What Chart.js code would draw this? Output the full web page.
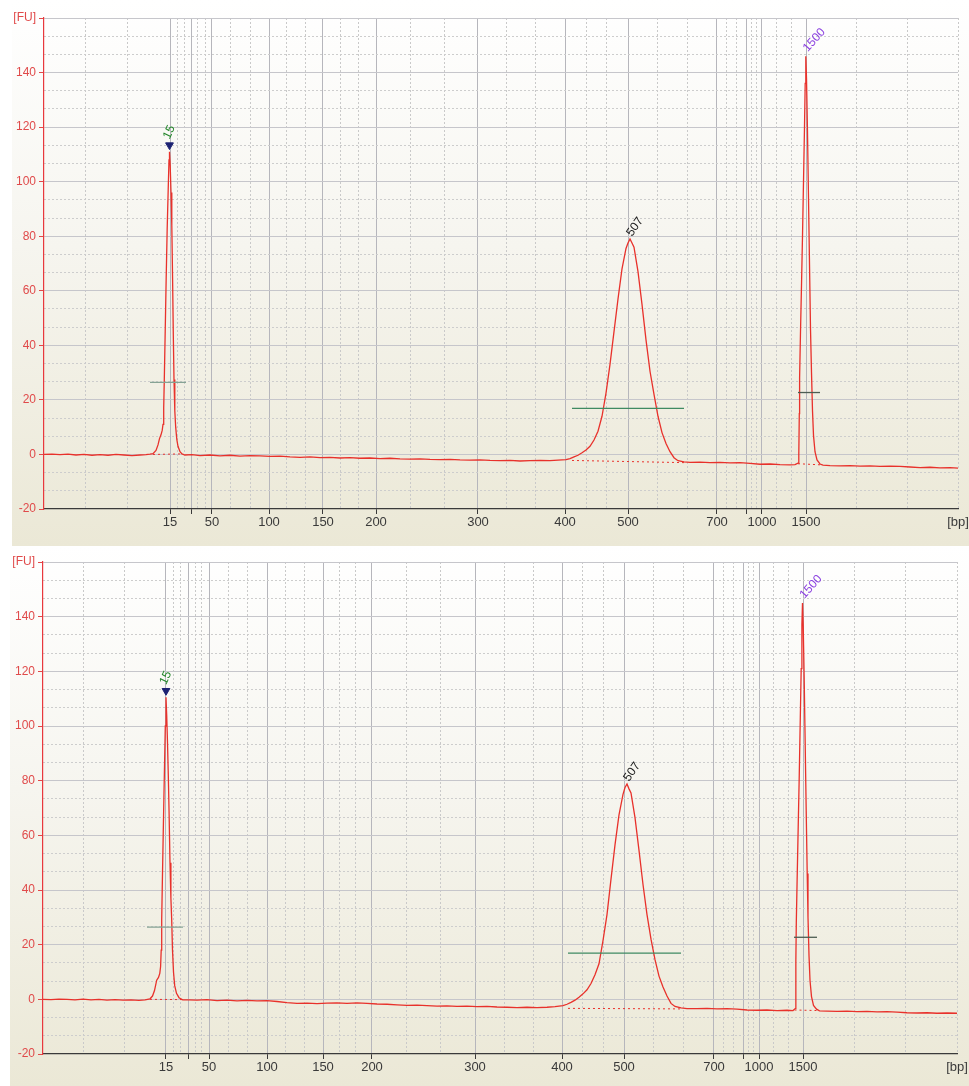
<!DOCTYPE html>
<html lang="en">
<head>
<meta charset="UTF-8" />
<script src="https://cdn.jsdelivr.net/npm/chart.js@4.4.1/dist/chart.umd.min.js"></script>
<title>Electropherogram</title>
<style>
  body { margin: 0; padding: 0; background: #fff; width: 969px; height: 1086px; overflow: hidden; position: relative; }
  .panel { position: absolute; background: linear-gradient(#ffffff 0%, #f6f5ef 45%, #ebe8d6 100%); }
  #p1 { left: 12px; top: 0; width: 957px; height: 546px; }
  #p2 { left: 10px; top: 546px; width: 959px; height: 540px; }
  canvas { position: absolute; left: 0; }
  #c1 { top: 0; }
  #c2 { top: 546px; }
</style>
</head>
<body>
<div class="panel" id="p1"></div>
<div class="panel" id="p2"></div>
<canvas id="c1" width="969" height="546"></canvas>
<canvas id="c2" width="969" height="540"></canvas>
<script>
// migration time axis (s) and ladder
const T_MIN = 20, T_MAX = 111.4
const ladderSizes = [15, 25, 50, 100, 150, 200, 300, 400, 500, 700, 850, 1000, 1500]
const ladderShown = ['15', '', '50', '100', '150', '200', '300', '400', '500', '700', '', '1000', '1500']
const ladderTime1 = [32.6, 34.7, 36.8, 42.5, 47.9, 53.2, 63.4, 72.1, 78.4, 87.3, 90.2, 91.8, 96.2]
const ladderTime2 = [32.3, 34.5, 36.6, 42.4, 48.0, 52.9, 63.2, 71.9, 78.1, 87.1, 90.0, 91.6, 96.0]
const fuTicks = [-20, 0, 20, 40, 60, 80, 100, 120, 140, 160]
const fuLabels = ['-20', '0', '20', '40', '60', '80', '100', '120', '140', '[FU]']

// sample 1 trace
const time1 = [20.0, 20.8, 21.6, 22.4, 23.2, 24.0, 24.8, 25.6, 26.4, 27.2, 28.0, 28.8, 29.6, 30.2, 30.6,
  30.9, 31.2, 31.4, 31.55, 31.7, 31.82, 31.9, 31.97, 32.03, 32.12, 32.22, 32.32, 32.42, 32.5, 32.55,
  32.62, 32.7, 32.78, 32.86, 32.93, 33.0, 33.08, 33.17, 33.28, 33.4, 33.6, 33.8, 34.1,
  34.8, 35.6, 36.6, 37.6, 38.6, 39.6, 40.6, 41.6, 42.6, 43.6, 44.6, 45.6, 46.6, 47.6, 48.6, 49.6,
  50.6, 51.6, 52.6, 53.6, 54.6, 55.6, 56.6, 57.6, 58.6, 59.6, 60.6, 61.6, 62.6, 63.6, 64.6, 65.6,
  66.6, 67.6, 68.6, 69.6, 70.6, 71.4,
  72.2, 72.6, 73.0, 73.4, 73.8, 74.2, 74.6, 75.0, 75.4, 75.8, 76.2, 76.6, 77.0, 77.4, 77.8, 78.2,
  78.4, 78.6, 78.8, 79.0, 79.4, 79.8, 80.2, 80.6, 81.0, 81.4, 81.8, 82.2, 82.6, 83.0, 83.4, 84.0, 84.6,
  85.6, 86.6, 87.6, 88.6, 89.6, 90.6, 91.6, 92.6, 93.6, 94.6, 95.1,
  95.4, 95.48, 95.53, 95.56, 95.65, 95.75, 95.85, 95.95, 96.05, 96.12, 96.18, 96.25, 96.35, 96.45,
  96.55, 96.65, 96.75, 96.85, 96.95, 97.1, 97.3, 97.6, 97.9,
  98.6, 99.6, 100.6, 101.6, 102.6, 103.6, 104.6, 105.6, 106.6, 107.6, 108.6, 109.6, 110.6, 111.4]
const fu1 = [0.0, 0.1, -0.1, 0.1, -0.2, 0.0, -0.3, -0.1, -0.3, 0.0, -0.2, -0.4, -0.2, -0.1, 0.1,
  0.3, 1.5, 3.5, 5.8, 7.2, 8.8, 11, 17, 27.5, 45, 65, 83, 97, 108, 111,
  106, 96, 84, 64, 44, 27.5, 16, 10, 5.5, 3, 1.0, 0.2, -0.2,
  -0.1, -0.4, -0.2, -0.5, -0.3, -0.6, -0.4, -0.5, -0.7, -0.6, -0.9, -1.1, -0.9, -1.2, -1.1, -1.3,
  -1.2, -1.4, -1.3, -1.5, -1.4, -1.6, -1.7, -1.6, -1.8, -1.9, -1.8, -2.0, -2.1, -2.0, -2.2, -2.3,
  -2.2, -2.4, -2.3, -2.2, -2.3, -2.1,
  -1.9, -1.5, -0.9, -0.3, 0.6, 1.6, 3.0, 5.3, 8.5, 14.0, 22.5, 33, 45, 57, 68, 75.5,
  77.5, 79, 77.5, 76, 67, 55, 42, 30.5, 22, 14, 8, 4, 1, -1.2, -2.3, -2.7, -2.9,
  -2.8, -3.0, -2.9, -3.1, -3.0, -3.3, -3.6, -3.5, -3.7, -3.8, -3.7,
  -3.2, 0, 15, 28, 45, 62, 80, 100, 120, 136, 146, 138, 118, 94,
  70, 46, 30, 16, 7, 1, -2.0, -3.5, -3.9,
  -4.1, -4.2, -4.1, -4.3, -4.2, -4.4, -4.3, -4.4, -4.6, -4.8, -4.7, -4.9, -4.8, -5.0]

// sample 2 trace
const time2 = [20.0, 20.8, 21.6, 22.4, 23.2, 24.0, 24.8, 25.6, 26.4, 27.2, 28.0, 28.8, 29.6, 30.2,
  30.7, 30.95, 31.15, 31.37, 31.55, 31.68, 31.76, 31.82, 31.87, 31.95, 32.05, 32.15, 32.23, 32.3,
  32.37, 32.45, 32.53, 32.61, 32.7, 32.79, 32.87, 32.95, 33.05, 33.17, 33.35, 33.6, 33.97,
  34.6, 35.4, 36.4, 37.4, 38.4, 39.4, 40.4, 41.4, 42.4, 43.4, 44.4, 45.4, 46.4, 47.4, 48.4, 49.4,
  50.4, 51.4, 52.4, 53.4, 54.4, 55.4, 56.4, 57.4, 58.4, 59.4, 60.4, 61.4, 62.4, 63.4, 64.4, 65.4,
  66.4, 67.4, 68.4, 69.4, 70.4, 71.2,
  72.0, 72.4, 72.8, 73.2, 73.6, 74.0, 74.4, 74.8, 75.2, 75.6, 76.0, 76.4, 76.8, 77.2, 77.6, 78.0,
  78.2, 78.4, 78.6, 78.8, 79.2, 79.6, 80.0, 80.4, 80.8, 81.2, 81.6, 82.0, 82.4, 82.8, 83.2, 83.8, 84.4,
  85.4, 86.4, 87.4, 88.4, 89.4, 90.4, 91.4, 92.4, 93.4, 94.4, 95.0,
  95.22, 95.27, 95.3, 95.33, 95.42, 95.52, 95.62, 95.72, 95.82, 95.89, 95.95, 96.02, 96.12, 96.22,
  96.32, 96.42, 96.5, 96.6, 96.7, 96.85, 97.05, 97.35, 97.65,
  98.4, 99.4, 100.4, 101.4, 102.4, 103.4, 104.4, 105.4, 106.4, 107.4, 108.4, 109.4, 110.4, 111.4]
const fu2 = [0.0, -0.1, 0.1, 0.0, -0.2, 0.1, -0.2, 0.0, -0.3, -0.1, -0.3, -0.2, -0.4, -0.2,
  0.2, 1.2, 3.2, 7.0, 8.0, 9.5, 12, 18, 29, 46, 66, 85, 100, 110.5,
  104, 94, 82, 68, 50, 37, 29, 18, 10, 5, 2.2, 0.6, -0.2,
  -0.2, -0.3, -0.1, -0.5, -0.3, -0.6, -0.4, -0.6, -0.5, -0.8, -1.2, -1.5, -1.4, -1.6, -1.4, -1.3,
  -1.5, -1.3, -1.5, -1.7, -1.8, -2.0, -2.2, -2.1, -2.3, -2.5, -2.4, -2.6, -2.5, -2.7, -2.6, -2.8,
  -2.9, -3.0, -2.9, -3.0, -2.9, -2.7,
  -2.3, -1.8, -1.1, -0.3, 0.8, 2.0, 3.5, 5.8, 9.0, 13, 21.5, 31, 44, 56.5, 67.5, 75,
  77.5, 78.8, 77, 75.5, 66.5, 54.5, 42, 31, 22, 14.5, 8.5, 4.5, 1.2, -1.5, -2.6, -3.1, -3.4,
  -3.4, -3.3, -3.5, -3.4, -3.6, -3.9, -4.0, -3.9, -4.1, -4.0, -4.1,
  -3.4, 0, 14, 28, 45, 63, 81, 101, 121, 137, 145, 137, 117, 93,
  69, 46, 30, 16, 7, 1, -2.2, -3.6, -4.2,
  -4.3, -4.4, -4.3, -4.5, -4.4, -4.6, -4.5, -4.7, -4.9, -5.0, -4.9, -5.1, -5.0, -5.1]

// called peaks
const peakNames = ['15', '507', '1500']
const peakTime1 = [32.55, 78.6, 96.18]
const peakFU1 = [111, 79, 146]
const peakTime2 = [32.3, 78.4, 95.95]
const peakFU2 = [110.5, 78.8, 145]

// peak region bars and dotted baselines
const regionLevel = [26.4, 16.9, 22.7]
const regionStart1 = [30.6, 72.8, 95.4]
const regionEnd1 = [34.2, 84.0, 97.6]
const regionStart2 = [30.4, 72.5, 95.1]
const regionEnd2 = [34.0, 83.8, 97.4]
const baseFrom1 = [0.0, -2.2, -3.4]
const baseTo1 = [0.2, -3.0, -3.8]
const baseFrom2 = [0.0, -3.3, -3.9]
const baseTo2 = [-0.1, -3.5, -4.1]
const baseStart1 = [30.9, 72.8, 95.4]
const baseEnd1 = [33.8, 84.0, 97.6]
const baseStart2 = [30.7, 72.5, 95.15]
const baseEnd2 = [33.9, 83.8, 97.4]

const RED = '#e8312b'
const regionColors = ['#86a394', '#3f8a62', '#4d5d52']
const peakColors = ['#23862a', '#1a1a1a', '#8a3fe0']
const peakAngles = [65, 55, 48]

function thirds(edges) {
  const out = []
  for (let i = 0; i < edges.length - 1; i++) {
    const a = edges[i], b = edges[i + 1]
    out.push(a + (b - a) / 3, a + (2 * (b - a)) / 3)
  }
  return out
}

function makeChart(id, cfg) {
  const xMajor = cfg.ladder.concat([T_MAX])
  const xLabels = ladderShown.concat(['[bp]'])
  const xMinor = thirds([T_MIN].concat(cfg.ladder, [T_MAX])).concat([T_MAX])
  const yMinor = thirds(fuTicks)

  const datasets = []
  for (let i = 0; i < 3; i++) {
    datasets.push({
      data: [{ x: cfg.baseStart[i], y: cfg.baseFrom[i] }, { x: cfg.baseEnd[i], y: cfg.baseTo[i] }],
      borderColor: RED, borderWidth: 1, borderDash: [2, 3], pointRadius: 0, showLine: true,
    })
  }
  for (let i = 0; i < 3; i++) {
    datasets.push({
      data: [{ x: cfg.regStart[i], y: regionLevel[i] }, { x: cfg.regEnd[i], y: regionLevel[i] }],
      borderColor: regionColors[i], borderWidth: 1.3, pointRadius: 0, showLine: true,
    })
  }
  datasets.push({
    data: cfg.time.map((t, i) => ({ x: t, y: cfg.fu[i] })),
    borderColor: RED, borderWidth: 1.3, pointRadius: 0, showLine: true, tension: 0,
  })
  datasets.push({
    data: [{ x: cfg.peakT[0], y: cfg.peakF[0] + 2.4 }],
    pointStyle: 'triangle', rotation: 180, pointRadius: 4.5,
    backgroundColor: '#1c2272', borderColor: '#1c2272', borderWidth: 1,
  })

  const peakLabels = {
    id: 'peakLabels',
    afterDatasetsDraw(chart) {
      const { ctx, scales } = chart
      ctx.save()
      ctx.font = '12px "Liberation Sans", Arial, sans-serif'
      ctx.textAlign = 'left'
      ctx.textBaseline = 'alphabetic'
      peakNames.forEach((name, i) => {
        const px = scales.x.getPixelForValue(cfg.peakT[i])
        const py = scales.y.getPixelForValue(cfg.peakF[i])
        const dy = i === 0 ? -12 : (i === 1 ? -2 : -4)
        ctx.save()
        ctx.translate(px + (i === 0 ? 0 : 2), py + dy)
        ctx.rotate((-peakAngles[i] * Math.PI) / 180)
        ctx.fillStyle = peakColors[i]
        ctx.fillText(name, 0, 0)
        ctx.restore()
      })
      ctx.restore()
    },
  }

  return new Chart(document.getElementById(id).getContext('2d'), {
    type: 'scatter',
    data: { datasets },
    plugins: [peakLabels],
    options: {
      responsive: false,
      animation: false,
      layout: { padding: { top: cfg.padTop, right: cfg.padRight, left: 0, bottom: 0 } },
      plugins: { legend: { display: false }, tooltip: { enabled: false } },
      scales: {
        x: {
          type: 'linear', position: 'bottom', min: T_MIN, max: T_MAX,
          afterBuildTicks: (s) => { s.ticks = xMajor.map((v) => ({ value: v })) },
          afterFit: (s) => { s.height = cfg.xHeight; s.paddingLeft = 0; s.paddingRight = 0 },
          ticks: {
            autoSkip: false, maxRotation: 0, minRotation: 0, padding: 1, color: '#3a3a3a',
            font: { family: '"Liberation Sans", Arial, sans-serif', size: 13 },
            callback: (v, i) => xLabels[i],
          },
          grid: {
            color: (c) => (c.index === xMajor.length - 1 ? 'rgba(0,0,0,0)' : '#b6b6bc'),
            tickColor: (c) => (c.index === xMajor.length - 1 ? 'rgba(0,0,0,0)' : '#3a3a3a'),
            tickLength: 5, lineWidth: 1,
          },
          border: { color: '#3a3a3a', width: 1.2 },
        },
        xm: {
          type: 'linear', position: 'bottom', min: T_MIN, max: T_MAX,
          afterBuildTicks: (s) => { s.ticks = xMinor.map((v) => ({ value: v })) },
          afterFit: (s) => { s.height = 0; s.paddingLeft = 0; s.paddingRight = 0 },
          ticks: { display: false },
          grid: { color: '#c9c9c9', drawTicks: false, lineWidth: 1 },
          border: { display: false, dash: [2, 2] },
        },
        y: {
          type: 'linear', position: 'left', min: -20, max: 160,
          afterBuildTicks: (s) => { s.ticks = fuTicks.map((v) => ({ value: v })) },
          afterFit: (s) => { s.width = cfg.yWidth; s.paddingTop = 0; s.paddingBottom = 0 },
          ticks: {
            padding: 3, color: '#e04a4a',
            font: { family: '"Liberation Sans", Arial, sans-serif', size: 12 },
            callback: (v, i) => fuLabels[i],
          },
          grid: {
            color: (c) => (c.index === 0 ? 'rgba(0,0,0,0)' : '#c6c6cb'),
            tickColor: '#e04a4a', tickLength: 5, lineWidth: 1,
          },
          border: { color: '#e8383d', width: 1.2 },
        },
        ym: {
          type: 'linear', position: 'left', min: -20, max: 160,
          afterBuildTicks: (s) => { s.ticks = yMinor.map((v) => ({ value: v })) },
          afterFit: (s) => { s.width = 0; s.paddingTop = 0; s.paddingBottom = 0 },
          ticks: { display: false },
          grid: { color: '#cdcdcd', drawTicks: false, lineWidth: 1 },
          border: { display: false, dash: [2, 2] },
        },
      },
    },
  })
}

makeChart('c1', {
  ladder: ladderTime1, time: time1, fu: fu1, peakT: peakTime1, peakF: peakFU1,
  regStart: regionStart1, regEnd: regionEnd1,
  baseStart: baseStart1, baseEnd: baseEnd1, baseFrom: baseFrom1, baseTo: baseTo1,
  padTop: 18, padRight: 11, xHeight: 37, yWidth: 44,
})
makeChart('c2', {
  ladder: ladderTime2, time: time2, fu: fu2, peakT: peakTime2, peakF: peakFU2,
  regStart: regionStart2, regEnd: regionEnd2,
  baseStart: baseStart2, baseEnd: baseEnd2, baseFrom: baseFrom2, baseTo: baseTo2,
  padTop: 16, padRight: 12, xHeight: 32, yWidth: 43,
})
</script>
</body>
</html>
